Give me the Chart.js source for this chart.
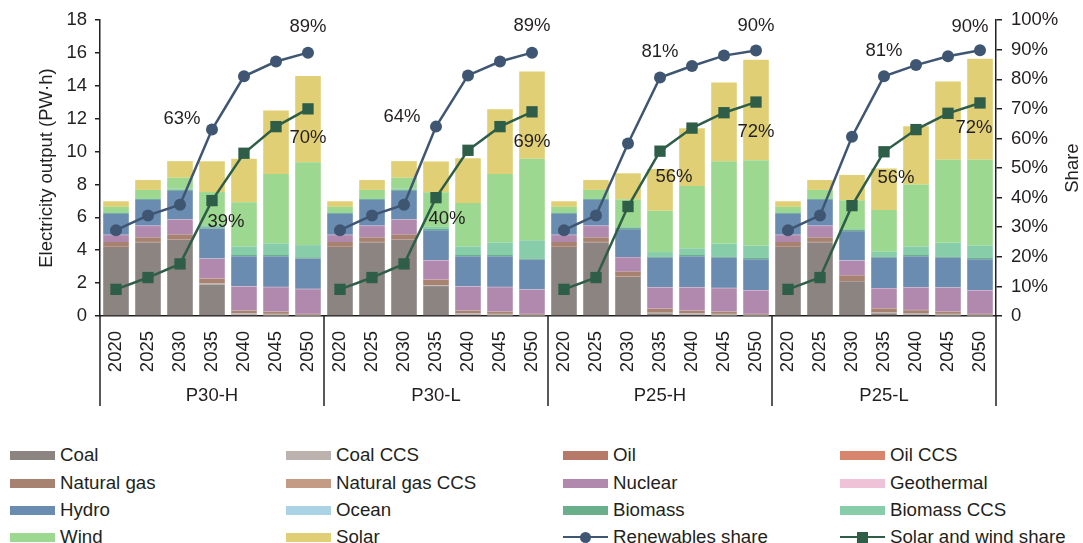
<!DOCTYPE html>
<html>
<head>
<meta charset="utf-8">
<script src="https://cdn.jsdelivr.net/npm/chart.js@4/dist/chart.umd.min.js"></script>
<style>
  html, body { margin: 0; padding: 0; background: #fff; }
  #wrap { position: relative; width: 1083px; height: 543px; overflow: hidden;
    font-family: "Liberation Sans", Arial, sans-serif; color: #231f20; }
  #chart { position: absolute; left: 0; top: 0; }
  .lg-item { position: absolute; display: flex; align-items: center; height: 24px;
    font-size: 18.7px; white-space: nowrap; }
  .lg-box { width: 45px; height: 9px; margin-right: 5px; }
  .lg-line { position: relative; width: 45px; height: 11px; margin-right: 5px; }
  .lg-line .ln { position: absolute; left: 0; right: 0; top: 4px; height: 2.5px; }
  .lg-line .mk { position: absolute; left: 17px; top: 0; width: 11px; height: 11px; }
</style>
</head>
<body>
<div id="wrap">
  <canvas id="chart" width="1083" height="420"></canvas>
  <div id="legend"></div>
</div>
<script>
"use strict";

const scenarios = ["P30-H", "P30-L", "P25-H", "P25-L"];
const years = ["2020", "2025", "2030", "2035", "2040", "2045", "2050"];

// PW·h, 7 years per scenario in the order above
const coal = [4.19, 4.47, 4.64, 1.91, 0.05, 0.03, 0.02, 4.19, 4.47, 4.64, 1.82, 0.05, 0.03, 0.02,
  4.19, 4.47, 2.38, 0.15, 0.05, 0.03, 0.02, 4.19, 4.47, 2.11, 0.16, 0.06, 0.03, 0.02];
const coalCcs = [0, 0, 0, 0.06, 0.12, 0.1, 0.05, 0, 0, 0, 0.05, 0.12, 0.1, 0.05,
  0, 0, 0, 0.05, 0.12, 0.1, 0.05, 0, 0, 0, 0.05, 0.12, 0.1, 0.05];
const oil = [0.05, 0.04, 0.03, 0.01, 0, 0, 0, 0.05, 0.04, 0.03, 0.01, 0, 0, 0,
  0.05, 0.04, 0.02, 0, 0, 0, 0, 0.05, 0.04, 0.02, 0, 0, 0, 0];
const oilCcs = [0, 0, 0, 0, 0, 0, 0, 0, 0, 0, 0, 0, 0, 0,
  0, 0, 0, 0, 0, 0, 0, 0, 0, 0, 0, 0, 0, 0];
const gas = [0.26, 0.27, 0.29, 0.28, 0.15, 0.12, 0.05, 0.26, 0.27, 0.29, 0.31, 0.15, 0.12, 0.05,
  0.26, 0.27, 0.3, 0.23, 0.14, 0.12, 0.05, 0.26, 0.27, 0.34, 0.25, 0.17, 0.12, 0.05];
const gasCcs = [0, 0, 0, 0.02, 0.02, 0.02, 0.01, 0, 0, 0, 0.02, 0.02, 0.02, 0.01,
  0, 0, 0, 0.02, 0.02, 0.02, 0.01, 0, 0, 0, 0.02, 0.02, 0.02, 0.01];
const nuclear = [0.42, 0.69, 0.89, 1.19, 1.45, 1.48, 1.5, 0.42, 0.69, 0.89, 1.17, 1.44, 1.48, 1.46,
  0.42, 0.69, 0.87, 1.28, 1.4, 1.42, 1.42, 0.42, 0.69, 0.89, 1.2, 1.36, 1.44, 1.42];
const geothermal = [0.02, 0.02, 0.02, 0.02, 0.02, 0.02, 0.02, 0.02, 0.02, 0.02, 0.02, 0.02, 0.02, 0.02,
  0.02, 0.02, 0.02, 0.02, 0.02, 0.02, 0.02, 0.02, 0.02, 0.02, 0.02, 0.02, 0.02, 0.02];
const hydro = [1.27, 1.57, 1.74, 1.83, 1.82, 1.86, 1.84, 1.27, 1.57, 1.74, 1.82, 1.83, 1.86, 1.81,
  1.27, 1.57, 1.69, 1.79, 1.88, 1.83, 1.88, 1.27, 1.57, 1.78, 1.84, 1.88, 1.81, 1.88];
const ocean = [0, 0, 0, 0, 0, 0, 0, 0, 0, 0, 0, 0, 0, 0,
  0, 0, 0, 0, 0, 0, 0, 0, 0, 0, 0, 0, 0, 0];
const biomass = [0.08, 0.08, 0.08, 0.08, 0.08, 0.08, 0.08, 0.08, 0.08, 0.08, 0.08, 0.08, 0.08, 0.08,
  0.08, 0.08, 0.08, 0.08, 0.08, 0.08, 0.08, 0.08, 0.08, 0.08, 0.08, 0.08, 0.08, 0.08];
const biomassCcs = [0, 0, 0.05, 0.12, 0.52, 0.7, 0.74, 0, 0, 0.05, 0.12, 0.52, 0.76, 1.1,
  0, 0, 0.05, 0.27, 0.4, 0.77, 0.74, 0, 0, 0.05, 0.29, 0.52, 0.83, 0.76];
const wind = [0.35, 0.53, 0.67, 2.02, 2.69, 4.23, 5.05, 0.35, 0.53, 0.67, 2.11, 2.65, 4.17, 4.96,
  0.35, 0.53, 1.69, 2.52, 3.8, 5.03, 5.21, 0.35, 0.53, 1.75, 2.54, 3.77, 5.05, 5.21];
const solar = [0.34, 0.6, 1.01, 1.87, 2.64, 3.86, 5.24, 0.34, 0.6, 1.01, 1.87, 2.72, 3.94, 5.32,
  0.34, 0.6, 1.58, 2.53, 3.51, 4.79, 6.11, 0.34, 0.6, 1.54, 2.53, 3.55, 4.77, 6.15];

// shares, %
const renewShare = [29, 34, 37.6, 63, 81, 86, 89, 29, 34, 37.6, 64, 81.3, 86, 89,
  29, 34, 58.3, 80.6, 84.5, 88, 89.7, 29, 34, 60.6, 81, 84.8, 87.8, 89.8];
const swShare = [9, 13, 17.6, 39, 55, 64, 70, 9, 13, 17.6, 40, 56, 64, 69,
  9, 13, 37, 55.7, 63.5, 68.7, 72.3, 9, 13, 37.3, 55.5, 63, 68.5, 72];

const renewLabels = [null, null, null, "63%", null, null, "89%", null, null, null, "64%", null, null, "89%",
  null, null, null, "81%", null, null, "90%", null, null, null, "81%", null, null, "90%"];
const swLabels = [null, null, null, "39%", null, null, "70%", null, null, null, "40%", null, null, "69%",
  null, null, null, "56%", null, null, "72%", null, null, null, "56%", null, null, "72%"];

const yTicks = { min: 0, max: 18, step: 2 };
const shareTicks = { min: 0, max: 100, step: 10 };

const ink = "#231f20";
const font = "Liberation Sans, Arial, sans-serif";

const labels = scenarios.flatMap(() => years);

const sources = [
  ["Coal", coal, "#8c8480"],
  ["Coal CCS", coalCcs, "#bcb2ae"],
  ["Oil", oil, "#b87a68"],
  ["Oil CCS", oilCcs, "#d7866d"],
  ["Natural gas", gas, "#a78270"],
  ["Natural gas CCS", gasCcs, "#c49b84"],
  ["Nuclear", nuclear, "#b189ae"],
  ["Geothermal", geothermal, "#f0c2d8"],
  ["Hydro", hydro, "#6a8cb0"],
  ["Ocean", ocean, "#abd3e6"],
  ["Biomass", biomass, "#6aaf8c"],
  ["Biomass CCS", biomassCcs, "#87cdaa"],
  ["Wind", wind, "#9dd890"],
  ["Solar", solar, "#e0cf74"],
];

function lineSet(label, data, color, style, radius) {
  return {
    type: "line",
    label,
    data,
    yAxisID: "y1",
    order: 0,
    borderColor: color,
    backgroundColor: color,
    borderWidth: 2.5,
    pointStyle: style,
    pointRadius: radius,
    pointBorderWidth: 0,
    pointBackgroundColor: color,
    segment: {
      // no line between the last year of one scenario and the first of the next
      borderColor: (c) => (c.p0DataIndex % years.length === years.length - 1 ? "rgba(0,0,0,0)" : color),
    },
  };
}

const datasets = sources.map(([label, data, color]) => ({
  type: "bar",
  label,
  data,
  backgroundColor: color,
  stack: "gen",
  order: 1,
  categoryPercentage: 1,
  barPercentage: 0.8,
}));
datasets.push(lineSet("Renewables share", renewShare, "#3f5673", "circle", 6));
datasets.push(lineSet("Solar and wind share", swShare, "#2e5e48", "rect", 8));

const pointLabels = [
  { ds: sources.length, texts: renewLabels },
  { ds: sources.length + 1, texts: swLabels },
];
// label offsets from the point, by dataset then by index
const labelOffsets = {
  [sources.length]: { 3: [-30, -11], 10: [-34, -10], 6: [0, -26], 13: [0, -27], 17: [0, -26], 20: [0, -25], 24: [0, -25], 27: [-10, -23] },
  [sources.length + 1]: { 3: [14, 21], 10: [11, 21], 6: [0, 29], 13: [0, 30], 17: [14, 26], 20: [0, 30], 24: [12, 26], 27: [-6, 25] },
};

const decorations = {
  id: "decorations",
  afterDatasetsDraw(chart) {
    const { ctx } = chart;
    ctx.save();
    ctx.fillStyle = ink;
    ctx.font = "18.5px " + font;
    ctx.textAlign = "center";
    ctx.textBaseline = "middle";
    pointLabels.forEach(({ ds, texts }) => {
      const pts = chart.getDatasetMeta(ds).data;
      texts.forEach((t, i) => {
        if (!t) return;
        const [dx, dy] = labelOffsets[ds][i] || [0, -26];
        ctx.fillText(t, pts[i].x + dx, pts[i].y + dy);
      });
    });
    ctx.restore();
  },
  afterDraw(chart) {
    const { ctx, chartArea, scales } = chart;
    const x = scales.x;
    const n = years.length;
    const bounds = [chartArea.left];
    for (let g = 1; g < scenarios.length; g++) {
      bounds.push((x.getPixelForValue(g * n - 1) + x.getPixelForValue(g * n)) / 2);
    }
    bounds.push(chartArea.right);

    ctx.save();
    ctx.strokeStyle = ink;
    ctx.lineWidth = 1.5;
    bounds.forEach((b) => {
      ctx.beginPath();
      ctx.moveTo(b, chartArea.bottom);
      ctx.lineTo(b, 406);
      ctx.stroke();
    });

    ctx.fillStyle = ink;
    ctx.font = "18.5px " + font;
    ctx.textAlign = "center";
    ctx.textBaseline = "middle";
    scenarios.forEach((s, g) => ctx.fillText(s, (bounds[g] + bounds[g + 1]) / 2, 396));

    const mid = (chartArea.top + chartArea.bottom) / 2;
    [["Electricity output (PW·h)", 47], ["Share", 1073]].forEach(([t, tx]) => {
      ctx.save();
      ctx.translate(tx, mid);
      ctx.rotate(-Math.PI / 2);
      ctx.fillText(t, 0, 0);
      ctx.restore();
    });
    ctx.restore();
  },
};

const htmlLegend = {
  id: "htmlLegend",
  afterUpdate(chart) {
    const box = document.getElementById("legend");
    box.innerHTML = "";
    const cols = [10, 286, 563, 840];
    const rows = [455, 483, 510, 537];
    chart.data.datasets.forEach((ds, i) => {
      const item = document.createElement("div");
      item.className = "lg-item";
      item.style.left = cols[i % 4] + "px";
      item.style.top = rows[Math.floor(i / 4)] - 12 + "px";
      let mark;
      if (ds.type === "line") {
        mark = document.createElement("span");
        mark.className = "lg-line";
        const ln = document.createElement("span");
        ln.className = "ln";
        ln.style.background = ds.borderColor;
        const mk = document.createElement("span");
        mk.className = "mk";
        mk.style.background = ds.borderColor;
        if (ds.pointStyle === "circle") mk.style.borderRadius = "50%";
        mark.append(ln, mk);
      } else {
        mark = document.createElement("span");
        mark.className = "lg-box";
        mark.style.background = ds.backgroundColor;
      }
      const txt = document.createElement("span");
      txt.textContent = ds.label;
      item.append(mark, txt);
      box.appendChild(item);
    });
  },
};

const tickFont = { family: font, size: 18.5 };

new Chart(document.getElementById("chart"), {
  type: "bar",
  data: { labels, datasets },
  options: {
    responsive: false,
    animation: false,
    devicePixelRatio: 1,
    layout: { padding: { top: 20, left: 0, right: 0, bottom: 0 } },
    plugins: { legend: { display: false }, tooltip: { enabled: false } },
    scales: {
      x: {
        stacked: true,
        grid: { display: false },
        border: { display: true, color: ink, width: 1.5 },
        ticks: { color: ink, font: tickFont, minRotation: 90, maxRotation: 90, autoSkip: false, padding: 7 },
        afterFit: (s) => { s.height = 104; },
      },
      y: {
        stacked: true,
        position: "left",
        min: yTicks.min,
        max: yTicks.max,
        ticks: { stepSize: yTicks.step, color: ink, font: tickFont, padding: 8 },
        grid: { drawOnChartArea: false, tickLength: 5, color: ink, lineWidth: 1.5 },
        border: { display: true, color: ink, width: 1.5 },
        afterFit: (s) => { s.width = 100; },
      },
      y1: {
        stacked: false,
        position: "right",
        min: shareTicks.min,
        max: shareTicks.max,
        ticks: {
          stepSize: shareTicks.step,
          color: ink,
          font: tickFont,
          padding: 9,
          callback: (v) => (v === 0 ? "0" : v + "%"),
        },
        grid: { drawOnChartArea: false, tickLength: 6, color: ink, lineWidth: 1.5 },
        border: { display: true, color: ink, width: 1.5 },
        afterFit: (s) => { s.width = 87; },
      },
    },
  },
  plugins: [decorations, htmlLegend],
});
</script>
</body>
</html>
